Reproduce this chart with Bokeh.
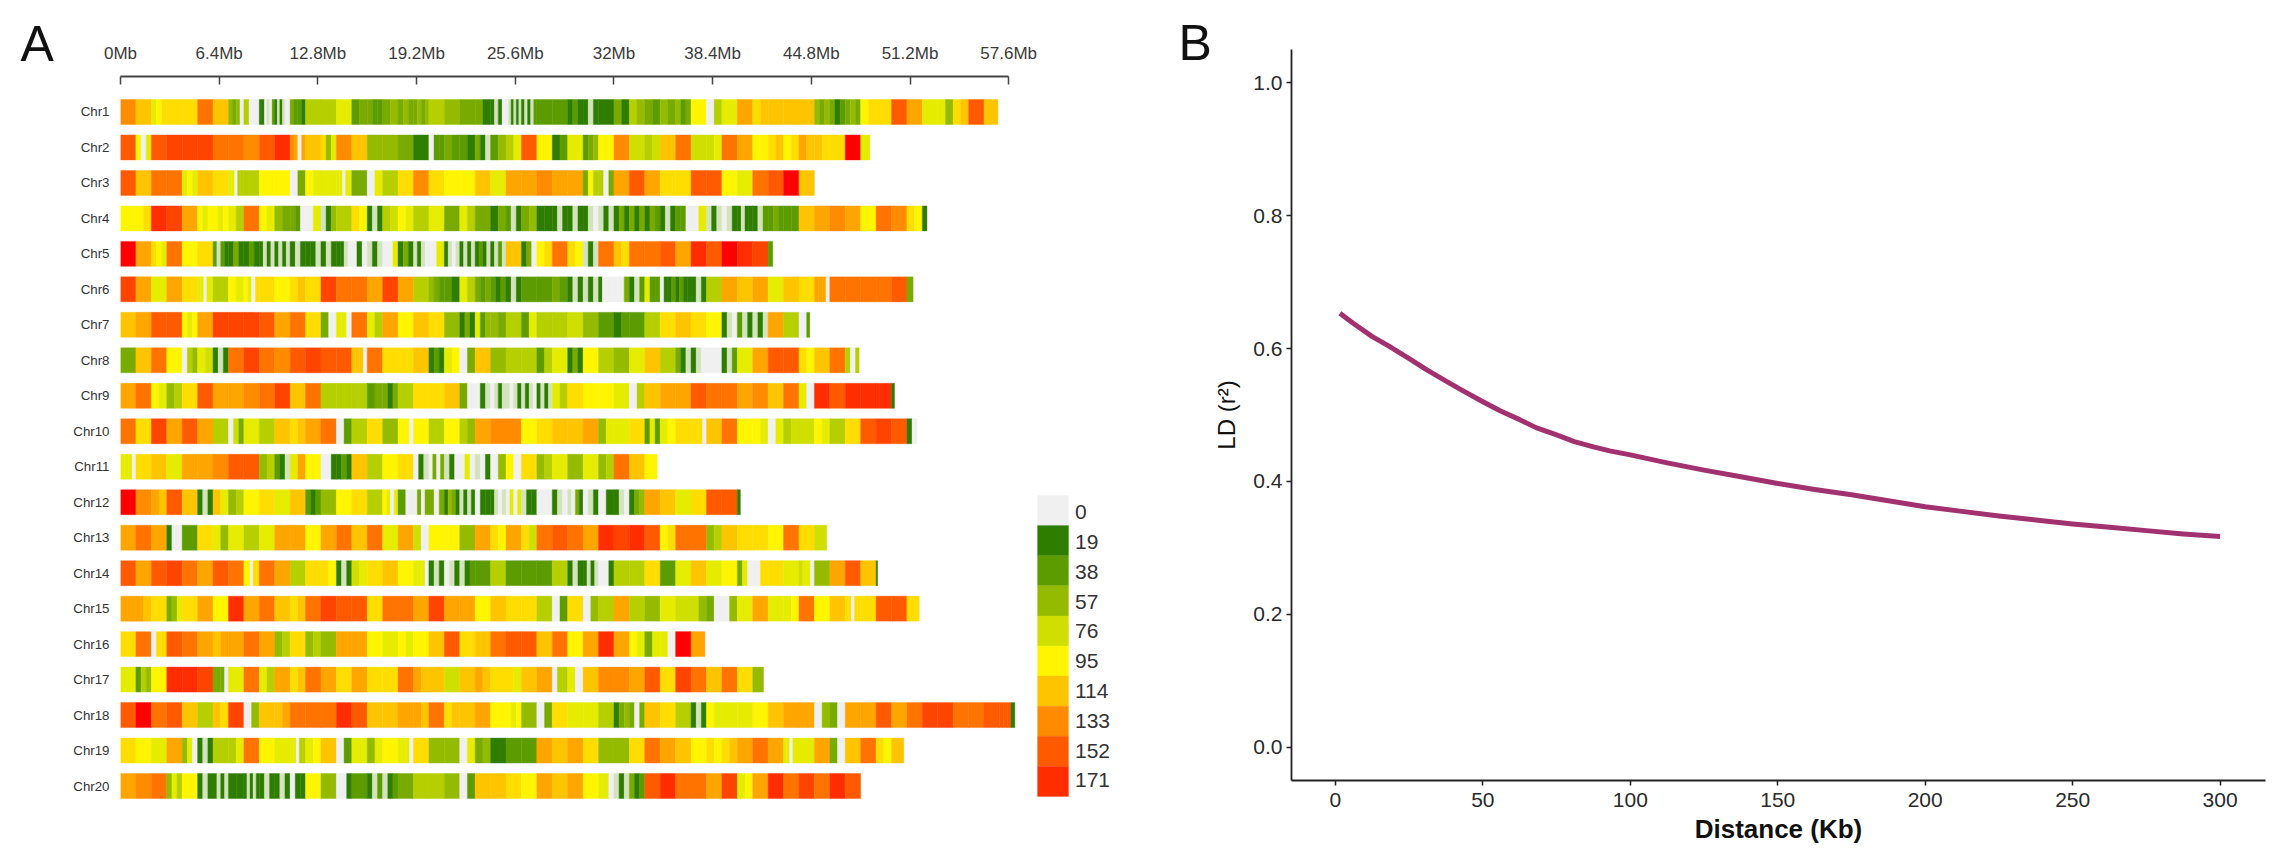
from bokeh.plotting import figure
from bokeh.models import (ColumnDataSource, FixedTicker, Range1d)
from bokeh.embed import file_html
from bokeh.resources import INLINE
from bokeh.core.properties import value

# One token per 1 Mb bin; a token of several codes divides that bin into equal stripes.
CHR01 = "7 6 a5b b b d 6 3g30 f00 110a02 1a1a00 g221 f f a 2g g22 g3 g3g g3g3 f 3 g g1 1a10 0a1a1a 1a1a2 2 2 121 1a1 1 g1 f3 g2 3g 32g 5 0f a c b6 6 6 6 3g3 g12 g3g 5b b 8 c a a3 b6 8 6".split()
CHR02 = "8 50a 8 e e e d d 7 8 9 7c0c 6 b3a 7 6 3 3 g 1 022 g2 21 g1a 23 fa 8 5 12 a 2g3 5 7 4 f4 6 d 4 4a d c 5 b6 5b c6 6b b r a".split()
CHR03 = "8 6 d d a5a 6 b aa0ff f 5 5 0g 5a a aa0aa g 0a f b 7 b 5 5 6 a c c 7 c c g5f f0g c 8 c b b 8 8 5 a d 8 r 6".split()
CHR04 = "5 5b 9 e c 5a5 5a5 af d 5a 3g g20 0a a13 f b5 1a1 f4 5a f a g af g 1g 2a1 g3 11 1a1 1a1 1a0 a1a 1g1 g1g 1g2 1a1 220 0a a1a 0a1 1a11 1a2 2g2 22 6 c 7 c 5 d 7 b5 1".split()
CHR05 = "r c b5a d 5 b 2a21 1g1 121 1a1a 1a1a 1a1 11a 1a1 11a0 010 a1a 00a 1g1 a1a0 0a 1a0a 1a1a 121a 1a2a 6 1g0 5b d b5 a1a d 6b d d 8 c 9 8 r 9 e 2".split()
CHR06 = "e c a c b aa0aa f 5a 5a0b b 5 b6 b e d d c e c f 3g2 21 af g2g 212 1a1 2 2 g2 1a1 a1a 1000 00g 1a2 a22 0112 1211 1a1 f c 6 c a 6 b ccc0 d d d d 8 g".split()
CHR07 = "6 c 8 8 5a5 c e e e 8 c d b g0 aa0 d af c 5 6 b 3 1g1 a23 3g f 2a f f 4 3 2 12 2 f b 6 b 5 1a0 2a1 a1a c f 02".split()
CHR08 = "g 6 d 5 0f3 a4 1a1 d e d 7 8 e 8 8 6660 d b b 6 121 a5 0g 6 3 f f 2f a 1g1 5 f 3 a 6 f g1a 1a0 0 1a2 a c 8 8 b5 6 d f0f".split()
CHR09 = "c d 5a 3f b 8 c c 7 d e 6 d f f f 2g g1g f b b 6 g0 01a 0a1a a0a1 a1a0 1a1a af b 5 5 a 0f 6 c c 8 d d c 7 6 d a0 9 8 9 9 9 1".split()
CHR10 = "d b e c 8 c f 04g a f 6 b6 c d 02 f b 3 5550 5 f 5 f3 c 7 7 5 b 6 6 c 3a a b 2a2 a5 b bbb0 6 d 5 5a 0a f4 4 5a f b 8 e 8 102".split()
CHR11 = "aaa0 b 6 a c c 7 8 8 3f 21a ac 5 001 121 6 f 5 b 01a 0g0g a10 0a0 a01 03 50 b 3f a 3 a 3f d 6 5".split()
CHR12 = "r 7 c6 8 6 1a1 6a 3f 5 b a 6 212 3 5 b f 5a0a 20 0g0g g0g 13g1 a1a1 011 1a0a 0a0a a11 0 1a0 a0g1 0a1 01 1a0 1g3 c 6 a b 8 8 1".split()
CHR13 = "c d c 100 2 b a3 a f a c c 5 c d 6 d a c 40 5 5 3 c b5 c b4 d 8 d c 9 e 9 8 5b d d 3f 6 b b 5 d b 4".split()
CHR14 = "8 c 8 e d c 8 d 550bb d c f b b5 1a1 4a b 6 5 aaa0 1a1 0a1 a12 2 f 2 2 2 f 1a1 1a1a 001 f f b 2 a 6 a 5 ga0 0b b a 4aa0 3 c 8 6 1".split()
CHR15 = "c c6 b g3a b c 5 9 c d 6 b6 d e 8 8 b d d c e c c 5 6 b b f 02 b 03 f c f 3 a 4 43 g0 03 a c a a5 d 5 6 bb0bb b 8 8 b".split()
CHR16 = "b d 0bb 8 d c 6c c d c 3f b 3f 3 c c 5 a 5a 5 6 8 b 6 d 8 8 6 d 5 c 9 c 5a ga a0 r c".split()
CHR17 = "a 2f3 5 9 9 e ggg0 a d af c b6 d c b c b b d c6 6 4 6 c6 b ba 6 c 0ff a0 6 7 7 c 8 b e d 6 d b 3".split()
CHR18 = "8 r d 8 6 f 6b e 03 6 6c d d d 9 8 6 6 c c6 d b6 6 c 5 5a5 3 0g b a a f 1g3 g0g 6 b f 1a1 5a a a 5 6 c c 03 g0 c c 8 c d e e d d 8 8881".split()
CHR19 = "b 5 a c 3a0 1a1 f fa d 5 a aa0ff a5 6 02 a 3a 5 aaa0 b 3 3 0a g3 1 2 2 c 6 c b 3 3 b d c 6 5 b5 b6 c d c aa0aa a c g0 6 d b5 6".split()
CHR20 = "c 7 d 3af 5 1a1 1a1a 11 1a1a1 1a1 1a1 011 5 3 001 2 1a2 a12 g f f 3 02 6 6 b 5 c 6 c 5 aa0 a1a g12 8 9 d d c e a5 c 9 d e d 9 8".split()
CHROMOSOMES = [CHR01, CHR02, CHR03, CHR04, CHR05, CHR06, CHR07, CHR08, CHR09, CHR10,
               CHR11, CHR12, CHR13, CHR14, CHR15, CHR16, CHR17, CHR18, CHR19, CHR20]
CHR_NAMES = [f"Chr{i}" for i in range(1, 21)]
CHR_LENGTH_MB = [56.9, 48.6, 45.8, 52.3, 42.3, 51.4, 44.7, 47.9, 50.2, 51.65,
                 34.8, 40.2, 45.8, 49.1, 51.8, 37.9, 41.7, 58.1, 50.8, 48.0]

CODE_COLOURS = {"0": "#f0f0f0", "1": "#2e7d00", "2": "#5c9c00", "g": "#78aa00", "3": "#94bb00",
                "f": "#b5cf00", "4": "#cfdf00", "a": "#e6ec00", "5": "#fff500", "b": "#ffdd00",
                "6": "#ffc400", "c": "#ffa500", "7": "#ff8c00", "d": "#ff7300", "8": "#ff5a00",
                "e": "#ff4400", "9": "#ff2d00", "r": "#ff0000", "h": "#d3e3bc"}
LEGEND_CODES = list("0123456789")
LEGEND_LABELS = ["0", "19", "38", "57", "76", "95", "114", "133", "152", "171"]
MB_TICKS = [0, 6.4, 12.8, 19.2, 25.6, 32, 38.4, 44.8, 51.2, 57.6]
MB_LABELS = ["0Mb", "6.4Mb", "12.8Mb", "19.2Mb", "25.6Mb", "32Mb", "38.4Mb", "44.8Mb", "51.2Mb", "57.6Mb"]

DISTANCE_KB = [1.5, 6, 12.5, 18, 25, 31, 37.5, 43, 50, 56, 62.5, 68, 75, 81, 87.5, 93, 100, 112.5, 125, 137.5, 150, 162.5,
               175, 187.5, 200, 212.5, 225, 237.5, 250, 262.5, 275, 287.5, 300]
LD_R2 = [0.653, 0.638, 0.618, 0.604, 0.585, 0.568, 0.551, 0.537, 0.520, 0.506, 0.493, 0.481, 0.470, 0.460, 0.452, 0.446, 0.440, 0.428, 0.417, 0.407, 0.397, 0.388,
         0.380, 0.371, 0.362, 0.355, 0.348, 0.342, 0.336, 0.331, 0.326, 0.321, 0.317]

FONT = "Liberation Sans"

def placed(left_px, top_px):
    return {"position": "absolute", "left": f"{left_px}px", "top": f"{top_px}px"}

# ---------- Panel A ----------
left, right, rows, colours = [], [], [], []
for idx, (tokens, length) in enumerate(zip(CHROMOSOMES, CHR_LENGTH_MB), start=1):
    for k, token in enumerate(tokens):
        n = len(token)
        for j, code in enumerate(token):
            x0, x1 = k + j / n, k + (j + 1) / n
            if x0 >= length:
                continue
            if code == "a" and "1" in token:   # the pale gaps between dark stripes
                code = "h"
            left.append(x0); right.append(min(x1, length)); rows.append(idx); colours.append(CODE_COLOURS[code])
bars = ColumnDataSource(dict(left=left, right=right, y=rows, color=colours))

a = figure(width=1158, height=849, output_backend="svg", toolbar_location=None,
           x_range=Range1d(0, 990 / 15.42), x_axis_location="above",
           y_range=Range1d(21, 0),
           min_border_left=120, min_border_right=48, min_border_top=76, min_border_bottom=28,
           styles=placed(0, 0))
a.outline_line_color = None
a.grid.visible = False
a.hbar(y="y", left="left", right="right", height=0.704, color="color", line_width=0.4, source=bars)

ax = a.xaxis[0]
ax.ticker = FixedTicker(ticks=MB_TICKS)
ax.major_label_overrides = {t: l for t, l in zip(MB_TICKS, MB_LABELS)}
ax.bounds = (0, 57.6)
ax.axis_line_color = "#444444"; ax.axis_line_width = 2
ax.major_tick_line_color = "#444444"; ax.major_tick_line_width = 1.5
ax.major_tick_in = 8; ax.major_tick_out = 0; ax.minor_tick_line_color = None
ax.major_label_text_font = FONT; ax.major_label_text_font_size = "17px"
ax.major_label_text_color = "#3a3a3a"; ax.major_label_standoff = 14

ay = a.yaxis[0]
ay.ticker = FixedTicker(ticks=list(range(1, 21)))
ay.major_label_overrides = {i + 1: n for i, n in enumerate(CHR_NAMES)}
ay.axis_line_color = None; ay.major_tick_line_color = None; ay.minor_tick_line_color = None
ay.major_label_text_font = FONT; ay.major_label_text_font_size = "13.3px"
ay.major_label_text_color = "#333333"; ay.major_label_standoff = 5

# colour key on its own vertical scale, one unit per class
a.extra_y_ranges = {"key": Range1d(start=10.83, end=-13.92)}
nkeys = len(LEGEND_CODES)
a.quad(left=59.47, right=61.48, top=list(range(nkeys)), bottom=[i + 1 for i in range(nkeys)],
       color=[CODE_COLOURS[c] for c in LEGEND_CODES], y_range_name="key", line_width=0.3)
a.text(x=[61.9] * nkeys, y=[0.56 + 0.989 * i for i in range(nkeys)], text=LEGEND_LABELS,
       text_font=value(FONT), text_font_size="21px", text_color="#333333",
       text_baseline="middle", text_align="left", y_range_name="key")

# ---------- Panel B ----------
b = figure(width=1129, height=849, output_backend="svg", toolbar_location=None,
           x_range=Range1d(-14.9, 315.4), y_range=Range1d(-0.05, 1.05),
           min_border_left=133, min_border_right=22, min_border_top=49, min_border_bottom=69,
           styles=placed(1158, 0))
b.outline_line_color = None
b.grid.visible = False
b.line(DISTANCE_KB, LD_R2, line_color="#a2326f", line_width=5, line_join="round")
bx, by = b.xaxis[0], b.yaxis[0]
bx.ticker = FixedTicker(ticks=[0, 50, 100, 150, 200, 250, 300])
by.ticker = FixedTicker(ticks=[0, 0.2, 0.4, 0.6, 0.8, 1.0])
by.major_label_overrides = {0: "0.0", 1.0: "1.0"}
for axis in (bx, by):
    axis.axis_line_color = "#222222"; axis.axis_line_width = 1.8
    axis.major_tick_line_color = "#222222"; axis.major_tick_line_width = 1.5
    axis.major_tick_in = 0; axis.major_tick_out = 5; axis.minor_tick_line_color = None
    axis.major_label_text_font = FONT; axis.major_label_text_font_size = "21px"
    axis.major_label_text_color = "#2a2a2a"
    axis.axis_label_text_font = FONT; axis.axis_label_text_color = "#111111"
bx.axis_label = "Distance (Kb)"; bx.axis_label_text_font_size = "26px"
bx.axis_label_text_font_style = "bold"; bx.major_label_standoff = 7; bx.axis_label_standoff = 4
by.axis_label = "LD (r²)"; by.axis_label_text_font_size = "24px"
by.axis_label_text_font_style = "normal"; by.major_label_standoff = 4; by.axis_label_standoff = 10

# ---------- Panel letters ----------
def letter(text, left_px, top_px):
    f = figure(width=60, height=70, output_backend="svg", toolbar_location=None,
               x_range=Range1d(0, 60), y_range=Range1d(70, 0), x_axis_type=None, y_axis_type=None,
               min_border=0, styles=placed(left_px, top_px))
    f.outline_line_color = None
    f.grid.visible = False
    f.background_fill_alpha = 0
    f.border_fill_alpha = 0
    f.text(x=[2], y=[36], text=[text], text_font=value(FONT), text_font_size="50px",
           text_color="#111111", text_baseline="alphabetic", text_align="left")
    return f

open("out.html", "w").write(file_html([a, b, letter("A", 18, 7), letter("B", 1176, 6)], INLINE))
